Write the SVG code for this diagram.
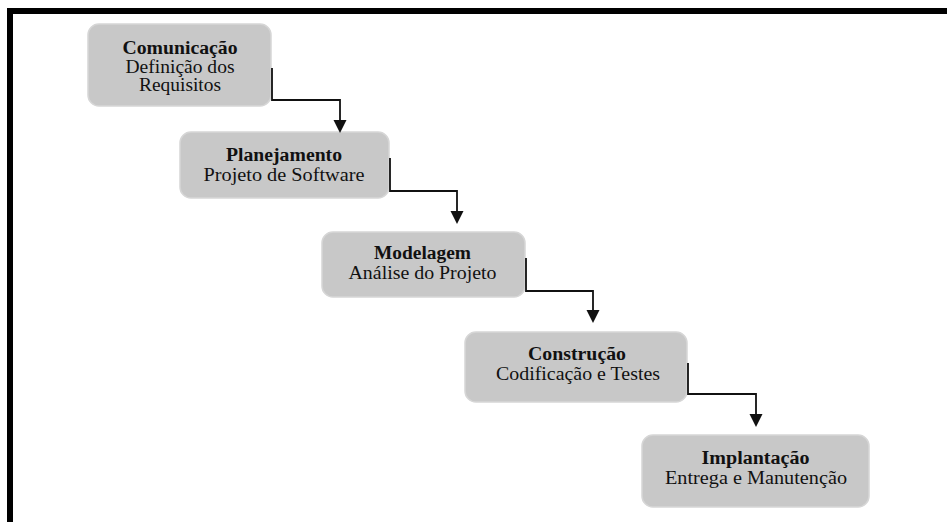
<svg xmlns="http://www.w3.org/2000/svg" width="947" height="522" viewBox="0 0 947 522">
  <style>
    .box { fill: #c8c8c8; stroke: #d6d6d6; stroke-width: 1.5; }
    .title { font-family: "Liberation Serif", "Times New Roman", serif; font-size: 18px; font-weight: bold; fill: #111; text-anchor: middle; }
    .sub { font-family: "Liberation Serif", "Times New Roman", serif; font-size: 18px; fill: #111; text-anchor: middle; }
    .link { fill: none; stroke: #111; stroke-width: 1.8; }
  </style>
  <defs>
    <marker id="arrow" markerUnits="userSpaceOnUse" markerWidth="14" markerHeight="13" refX="0" refY="6.5" orient="auto" overflow="visible">
      <path d="M0,0 L13,6.5 L0,13 Z" fill="#111"/>
    </marker>
  </defs>

  <rect width="947" height="522" fill="#fff"/>
  <!-- frame: top and left bars -->
  <path d="M10,522 V11 H947" fill="none" stroke="#000" stroke-width="6"/>

  <g id="comunicacao">
    <rect class="box" x="88" y="24" width="183" height="82" rx="11"/>
    <text class="title" x="180" y="54" textLength="115" lengthAdjust="spacingAndGlyphs">Comunicação</text>
    <text class="sub" x="180" y="72.5" textLength="109" lengthAdjust="spacingAndGlyphs">Definição dos</text>
    <text class="sub" x="180" y="91" textLength="82" lengthAdjust="spacingAndGlyphs">Requisitos</text>
  </g>

  <g id="planejamento">
    <rect class="box" x="180" y="132" width="209" height="66" rx="11"/>
    <text class="title" x="284" y="160.5" textLength="116" lengthAdjust="spacingAndGlyphs">Planejamento</text>
    <text class="sub" x="284" y="180.5" textLength="161" lengthAdjust="spacingAndGlyphs">Projeto de Software</text>
  </g>

  <g id="modelagem">
    <rect class="box" x="322" y="232" width="203" height="65" rx="11"/>
    <text class="title" x="422.5" y="259" textLength="97" lengthAdjust="spacingAndGlyphs">Modelagem</text>
    <text class="sub" x="422.5" y="279" textLength="148" lengthAdjust="spacingAndGlyphs">Análise do Projeto</text>
  </g>

  <g id="construcao">
    <rect class="box" x="465" y="332" width="222" height="70" rx="11"/>
    <text class="title" x="577" y="360" textLength="98" lengthAdjust="spacingAndGlyphs">Construção</text>
    <text class="sub" x="578" y="380" textLength="164" lengthAdjust="spacingAndGlyphs">Codificação e Testes</text>
  </g>

  <g id="implantacao">
    <rect class="box" x="642" y="435" width="227" height="72" rx="11"/>
    <text class="title" x="755.5" y="463.5" textLength="108" lengthAdjust="spacingAndGlyphs">Implantação</text>
    <text class="sub" x="756" y="483.5" textLength="182" lengthAdjust="spacingAndGlyphs">Entrega e Manutenção</text>
  </g>

  <g id="connectors">
    <path class="link" d="M272,68 V100 H340 V120" marker-end="url(#arrow)"/>
    <path class="link" d="M390,158 V191 H457 V211" marker-end="url(#arrow)"/>
    <path class="link" d="M526,258 V291 H593 V310" marker-end="url(#arrow)"/>
    <path class="link" d="M688,363 V394 H756 V414" marker-end="url(#arrow)"/>
  </g>
</svg>
